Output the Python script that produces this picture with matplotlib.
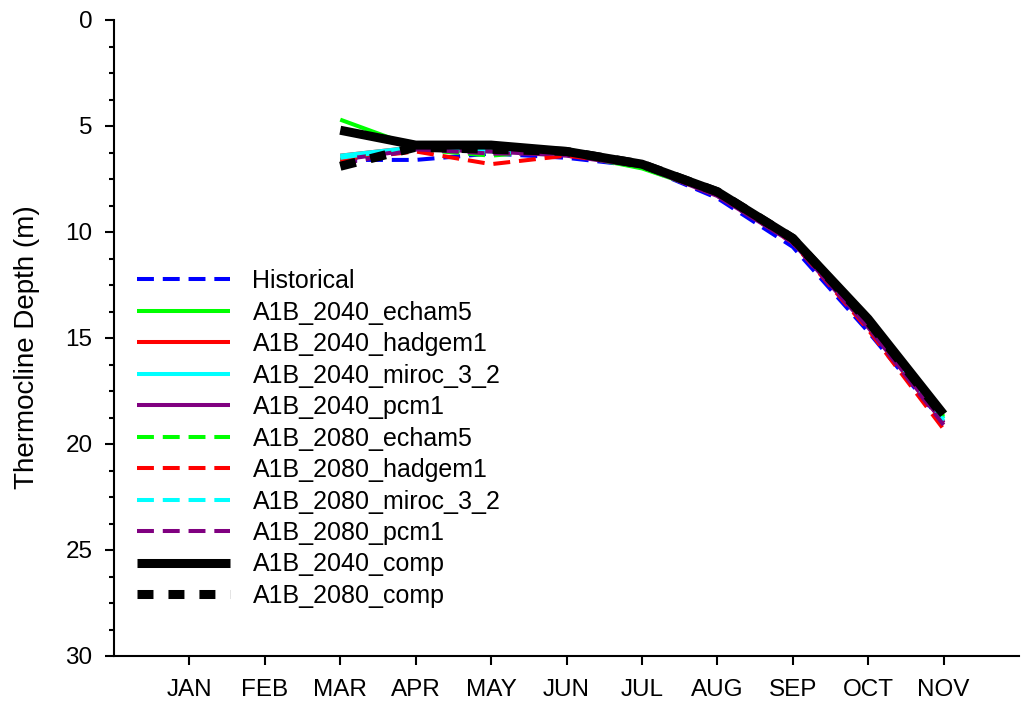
import matplotlib
matplotlib.use("Agg")
import matplotlib.pyplot as plt
from matplotlib.ticker import MultipleLocator

plt.rcParams['font.family'] = ['Liberation Sans', 'DejaVu Sans']

month_labels = ["JAN", "FEB", "MAR", "APR", "MAY", "JUN", "JUL", "AUG", "SEP", "OCT", "NOV"]
data_months = ["MAR", "APR", "MAY", "JUN", "JUL", "AUG", "SEP", "OCT", "NOV"]

historical      = [6.6, 6.6, 6.3, 6.5, 6.9, 8.4, 10.7, 14.7, 19.0]
a1b_2040_echam5 = [4.7, 6.0, 6.1, 6.3, 7.0, 8.2, 10.4, 14.3, 18.8]
a1b_2040_hadgem1 = [6.4, 6.0, 6.2, 6.3, 6.8, 8.2, 10.4, 14.4, 19.0]
a1b_2040_miroc = [6.4, 6.0, 6.2, 6.3, 6.8, 8.2, 10.4, 14.3, 18.8]
a1b_2040_pcm1 = [6.6, 6.1, 6.2, 6.4, 6.9, 8.3, 10.5, 14.5, 19.0]
a1b_2080_echam5 = [6.6, 6.1, 6.4, 6.1, 6.8, 8.1, 10.2, 14.2, 18.7]
a1b_2080_hadgem1 = [6.6, 6.2, 6.8, 6.4, 6.8, 8.2, 10.5, 14.6, 19.3]
a1b_2080_miroc = [6.5, 6.0, 6.2, 6.3, 6.8, 8.2, 10.4, 14.4, 18.9]
a1b_2080_pcm1 = [6.8, 6.1, 6.3, 6.3, 6.9, 8.3, 10.5, 14.5, 19.1]
a1b_2040_comp = [5.2, 5.9, 5.9, 6.2, 6.8, 8.1, 10.3, 14.1, 18.6]
a1b_2080_comp = [6.9, 6.0, 6.1, 6.2, 6.8, 8.1, 10.3, 14.2, 18.7]

series = [
    ("Historical", historical, "#0000ff", "dash", 2.9),
    ("A1B_2040_echam5", a1b_2040_echam5, "#00ff00", "solid", 2.9),
    ("A1B_2040_hadgem1", a1b_2040_hadgem1, "#ff0000", "solid", 2.9),
    ("A1B_2040_miroc_3_2", a1b_2040_miroc, "#00ffff", "solid", 2.9),
    ("A1B_2040_pcm1", a1b_2040_pcm1, "#800080", "solid", 2.9),
    ("A1B_2080_echam5", a1b_2080_echam5, "#00ff00", "dash", 2.9),
    ("A1B_2080_hadgem1", a1b_2080_hadgem1, "#ff0000", "dash", 2.9),
    ("A1B_2080_miroc_3_2", a1b_2080_miroc, "#00ffff", "dash", 2.9),
    ("A1B_2080_pcm1", a1b_2080_pcm1, "#800080", "dash", 2.9),
    ("A1B_2040_comp", a1b_2040_comp, "#000000", "solid", 6.5),
    ("A1B_2080_comp", a1b_2080_comp, "#000000", "bigdash", 6.5),
]

fig = plt.figure(figsize=(10.21, 7.05), dpi=100)
ax = fig.add_axes([114/1021, 1-656/705, (1019-114)/1021, (656-20)/705])

x = [month_labels.index(m) + 1 for m in data_months]
for label, vals, color, style, lw in series:
    if style == "solid":
        ls = "-"
    elif style == "dash":
        ls = (0, (4.2, 2.2))
    else:
        ls = (0, (1.77, 1.66))
    ax.plot(x, vals, color=color, lw=lw, linestyle=ls, label=label,
            solid_capstyle="butt", dash_capstyle="butt")

ax.set_xlim(0, 12)
ax.set_ylim(30, 0)
ax.set_xticks(range(1, 12))
ax.set_xticklabels(month_labels)
ax.yaxis.set_major_locator(MultipleLocator(5))
ax.yaxis.set_minor_locator(MultipleLocator(1.25))
for s in ["top", "right"]:
    ax.spines[s].set_visible(False)
for s in ["left", "bottom"]:
    ax.spines[s].set_linewidth(1.5)
ax.tick_params(axis="both", which="major", direction="out", length=6.5, width=1.5, labelsize=17.5)
ax.tick_params(axis="y", which="minor", direction="out", length=3.6, width=1.5)
ax.tick_params(axis="x", which="major", pad=10)
ax.tick_params(axis="y", which="major", pad=9)
ax.set_ylabel("Thermocline Depth (m)", fontsize=20)
ax.yaxis.set_label_coords((40 - 114) / 905, 0.486)

leg = ax.legend(loc="upper left", bbox_to_anchor=((137-114)/905, 1-(269-20)/636),
                frameon=False, fontsize=18, handlelength=3.7, handletextpad=0.92,
                labelspacing=0.30, borderpad=0, borderaxespad=0)

fig.savefig("out.png", dpi=100)
